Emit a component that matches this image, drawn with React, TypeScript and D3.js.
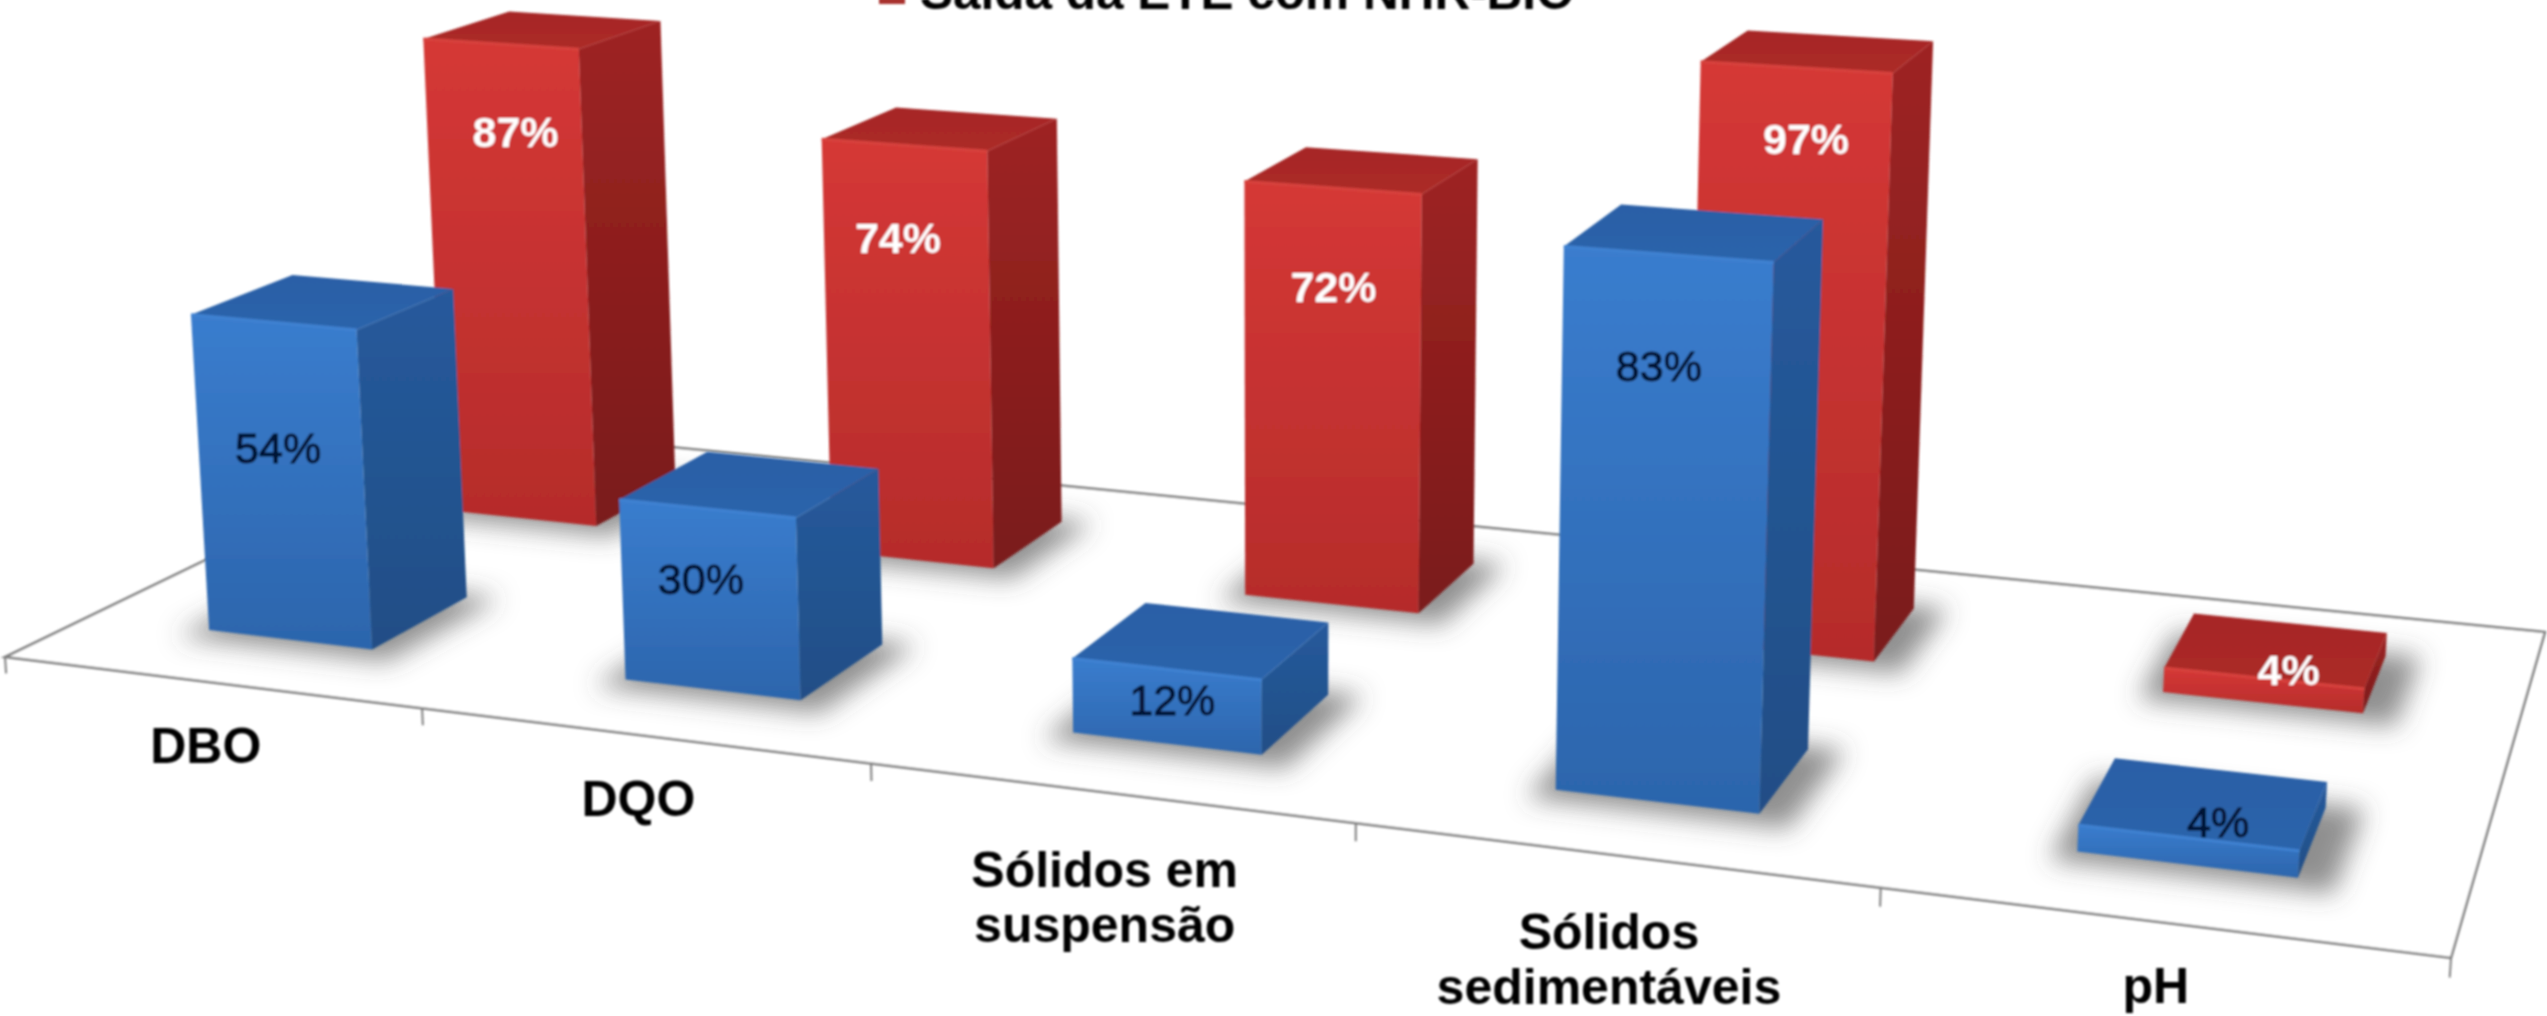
// App.tsx
// 3D-looking column chart: two rows of bars on a perspective floor, projected with a small camera matrix
import * as d3 from "d3"

type Pt = [number, number]

const categories = ["DBO", "DQO", "Sólidos em suspensão", "Sólidos sedimentáveis", "pH"]
const categoryLines = [["DBO"], ["DQO"], ["Sólidos em", "suspensão"], ["Sólidos", "sedimentáveis"], ["pH"]]
const rows = ["blue", "red"]
const blueValues = [54, 30, 12, 83, 4]
const redValues = [87, 74, 72, 97, 4]
const legendLabel = "Saída da ETE com NHR-BIO"

const WIDTH = 2547
const HEIGHT = 1016

// floor corners in the picture: front-left, front-right, back-right, back-left
const FLOOR: Pt[] = [[5, 657], [2451, 958], [2545, 632], [478, 428]]
// vertical vanishing point, far below the picture
const VP: Pt = [1280, 19200]
const Z_SCALE = -0.000315

// square -> quad homography
function homography([p0, p1, p2, p3]: Pt[]) {
  const dx1 = p1[0] - p2[0], dx2 = p3[0] - p2[0], sx = p0[0] - p1[0] + p2[0] - p3[0]
  const dy1 = p1[1] - p2[1], dy2 = p3[1] - p2[1], sy = p0[1] - p1[1] + p2[1] - p3[1]
  const det = dx1 * dy2 - dx2 * dy1
  const g = (sx * dy2 - dx2 * sy) / det
  const h = (dx1 * sy - sx * dy1) / det
  return {
    a: p1[0] - p0[0] + g * p1[0], b: p3[0] - p0[0] + h * p3[0], c: p0[0],
    d: p1[1] - p0[1] + g * p1[1], e: p3[1] - p0[1] + h * p3[1], f: p0[1],
    g, h,
  }
}
const H = homography(FLOOR)

// u along the categories, v into the depth, z in percent
function project(u: number, v: number, z: number): Pt {
  const s = Z_SCALE * z
  const w = H.g * u + H.h * v + 1 + s
  return [
    (H.a * u + H.b * v + H.c + s * VP[0]) / w,
    (H.d * u + H.e * v + H.f + s * VP[1]) / w,
  ]
}

const uScale = d3.scaleBand<string>().domain(categories).range([0, 1]).paddingInner(0.6).paddingOuter(0.3)
const vScale = d3.scaleBand<string>().domain(rows).range([0.005, 1.005]).paddingInner(0.6).paddingOuter(0.3)
const outline = d3.line<Pt>()
const poly = (pts: Pt[]) => outline(pts) + "Z"

// nudges of the value labels from the top of the front face, in px
const blueLabelNudge: Pt[] = [[5, 126], [-6, 70], [6, 31], [-9, 112], [30, -16]]
const redLabelNudge: Pt[] = [[15, 88], [-6, 93], [1, 99], [10, 71], [25, -8]]

interface Bar {
  row: string
  category: string
  value: number
  nudge: Pt
}

const bars: Bar[] = [
  ...categories.map((c, i) => ({ row: "red", category: c, value: redValues[i], nudge: redLabelNudge[i] })),
  ...categories.map((c, i) => ({ row: "blue", category: c, value: blueValues[i], nudge: blueLabelNudge[i] })),
]

const FONT = "'Liberation Sans', Arial, sans-serif"

function Column({ bar }: { bar: Bar }) {
  const u0 = uScale(bar.category)!
  const u1 = u0 + uScale.bandwidth()
  const v0 = vScale(bar.row)!
  const v1 = v0 + vScale.bandwidth()
  const z = bar.value
  const front = [project(u0, v0, z), project(u1, v0, z), project(u1, v0, 0), project(u0, v0, 0)]
  const side = [project(u1, v0, z), project(u1, v1, z), project(u1, v1, 0), project(u1, v0, 0)]
  const top = [project(u0, v0, z), project(u1, v0, z), project(u1, v1, z), project(u0, v1, z)]
  return (
    <g>
      <path d={poly(front)} fill={`url(#${bar.row}-front)`} />
      <path d={poly(side)} fill={`url(#${bar.row}-side)`} />
      <path d={poly(top)} fill={`url(#${bar.row}-top)`} />
      <path d={outline([front[0], front[1]])!} stroke={bar.row === "blue" ? "#3f82d2" : "#d8423e"} strokeWidth={3} fill="none" />
    </g>
  )
}

function Shadow({ bar }: { bar: Bar }) {
  const u0 = uScale(bar.category)!
  const u1 = u0 + uScale.bandwidth()
  const v0 = vScale(bar.row)!
  const v1 = v0 + vScale.bandwidth()
  const pts = [
    project(u0 - 0.008, v0 - 0.03, 0),
    project(u1 + 0.014, v0 - 0.03, 0),
    project(u1 + 0.014, v1 + 0.01, 0),
    project(u0 - 0.008, v1 + 0.01, 0),
  ]
  return <path d={poly(pts)} fill="#4a4a4a" opacity={0.62} />
}

function ValueLabel({ bar }: { bar: Bar }) {
  const u = uScale(bar.category)! + uScale.bandwidth() / 2
  const [x, y] = project(u, vScale(bar.row)!, bar.value)
  const isRed = bar.row === "red"
  return (
    <text
      x={x + bar.nudge[0]}
      y={y + bar.nudge[1] + 15}
      textAnchor="middle"
      fontSize={43}
      fontWeight={isRed ? 700 : 400}
      fill={isRed ? "#ffffff" : "#061234"}
      stroke={isRed ? "none" : "#061234"}
      strokeWidth={isRed ? 0 : 1}
    >
      {bar.value}%
    </text>
  )
}

function Gradient({ id, from, to, x2 = 0, y2 = 1 }: { id: string; from: string; to: string; x2?: number; y2?: number }) {
  return (
    <linearGradient id={id} x1={0} y1={0} x2={x2} y2={y2}>
      <stop offset="0%" stopColor={from} />
      <stop offset="100%" stopColor={to} />
    </linearGradient>
  )
}

export default function App() {
  const floorPath = poly(FLOOR)
  const ticks = d3.range(categories.length + 1).map((i) => {
    const u = i / categories.length
    return [project(u, 0, 0), project(u, 0, -2.8)] as Pt[]
  })

  return (
    <>
      <style>{"html,body{margin:0;padding:0;background:#fff}"}</style>
      <svg width={WIDTH} height={HEIGHT} style={{ display: "block" }} fontFamily={FONT}>
        <defs>
          <Gradient id="blue-front" from="#3a7dce" to="#2c65ac" />
          <Gradient id="blue-side" from="#265a9c" to="#214e86" />
          <Gradient id="blue-top" from="#2a5fa6" to="#2c64ab" />
          <Gradient id="red-front" from="#d53836" to="#b52c2b" />
          <Gradient id="red-side" from="#9e2322" to="#7a1b1b" />
          <Gradient id="red-top" from="#a62725" to="#ac2a28" />
          <filter id="shadow-blur" x="-30%" y="-30%" width="160%" height="160%">
            <feGaussianBlur stdDeviation={13} />
          </filter>
          <filter id="soft" filterUnits="userSpaceOnUse" x={0} y={0} width={WIDTH} height={HEIGHT}>
            <feGaussianBlur stdDeviation={0.8} />
          </filter>
        </defs>

        <rect width={WIDTH} height={HEIGHT} fill="#ffffff" />

        <g filter="url(#soft)">
          <path d={floorPath} fill="#ffffff" stroke="#7e7e7e" strokeWidth={2.5} />
          {ticks.map((t, i) => (
            <path key={i} d={outline(t)!} stroke="#7e7e7e" strokeWidth={2} fill="none" />
          ))}
        </g>

        <g filter="url(#shadow-blur)">
          {bars.map((b) => (
            <Shadow key={b.row + b.category} bar={b} />
          ))}
        </g>

        <g filter="url(#soft)">
          {bars.map((b) => (
            <Column key={b.row + b.category} bar={b} />
          ))}
          {bars.map((b) => (
            <ValueLabel key={b.row + b.category} bar={b} />
          ))}

          {categories.map((c, i) => {
            const [x, y] = project(uScale(c)! + uScale.bandwidth() / 2, 0, 0)
            const lines = categoryLines[i]
            return (
              <text key={c} textAnchor="middle" fontSize={50} fontWeight={700} fill="#000000">
                {lines.map((line, j) => (
                  <tspan key={line} x={x - 4} y={y + (lines.length > 1 ? 94 : 81) + j * 55}>
                    {line}
                  </tspan>
                ))}
              </text>
            )
          })}

          <rect x={879} y={-22} width={26} height={26} fill="#a8302e" />
          <text x={920} y={9} fontSize={49.5} fontWeight={700} fill="#000000">
            {legendLabel}
          </text>
        </g>
      </svg>
    </>
  )
}
